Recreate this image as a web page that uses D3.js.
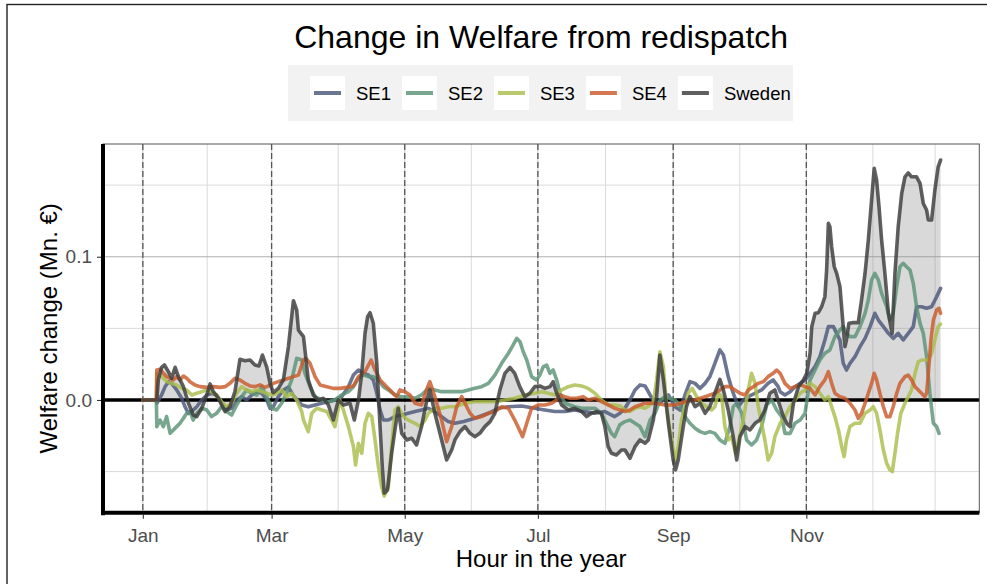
<!DOCTYPE html>
<html>
<head>
<meta charset="utf-8">
<script src="https://cdn.jsdelivr.net/npm/d3@7"></script>
<style>
  body { margin: 0; background: #fff; }
  svg { display: block; font-family: "Liberation Sans", Arial, sans-serif; }
</style>
</head>
<body>
<svg id="chart" width="987" height="584"></svg>
<script>
// Rolling welfare change per bidding zone, [day of year, Mn. €]
const se1 = [
  [0,0],[6.2,0],[6.4,-.0023],[8.6,.0035],[10.2,.0093],[11.7,.0128],[13.2,.0116],[15.5,.0070],[17.8,.0012],[19.3,-.0047],[20.9,-.0093],[22.4,-.0081],[24.7,-.0047],[27.0,0],[29.3,.0035],[31.5,.0047],[33.8,.0035],[36.1,-.0023],[38.4,-.0070],[40.7,-.0058],[43.0,0],[45.3,.0023],[47.6,0],[49.9,.0035],[52.2,.0058],[54.5,.0047],[56.8,0],[58.3,-.0058],[59.8,-.0047],[62.1,.0023],[64.4,.0070],[66.7,.0090],[69.0,.0030],[72.8,-.0035],[75.8,-.0047],[78.9,-.0035],[81.9,-.0023],[85.0,-.0012],[88.0,0],[91.1,.0023],[94.2,.0093],[96.5,.0174],[98.8,.0209],[101.1,.0186],[103.3,.0174],[105.6,.0140],[107.2,.0047],[108.7,-.0070],[110.2,-.0140],[112.5,-.0140],[115.5,-.0116],[118.6,-.0105],[121.6,-.0093],[124.7,-.0081],[127.7,-.0070],[130.8,-.0058],[133.8,-.0081],[136.9,-.0116],[139.9,-.0151],[143.0,-.0163],[147.0,-.0150],[152.1,-.0128],[158.3,-.0093],[162.9,-.0058],[167.5,-.0047],[173.5,-.0042],[179.6,-.0058],[184.2,-.0070],[188.8,-.0081],[193.4,-.0081],[197.9,-.0070],[202.5,-.0081],[207.1,-.0093],[211.7,-.0081],[216.2,-.0116],[218.6,-.0093],[220.9,-.0058],[223.2,0],[225.5,.0070],[227.8,.0105],[230.1,.0098],[232.4,.0035],[234.7,-.0023],[237.7,-.0012],[240.8,.0035],[243.8,-.0047],[246.1,-.0070],[248.4,.0035],[250.7,.0128],[253.0,.0116],[255.3,.0081],[257.6,.0116],[259.8,.0163],[262.1,.0256],[264.4,.0349],[266.0,.0314],[268.2,.0163],[270.5,.0047],[272.8,-.0047],[275.1,0],[277.4,.0023],[280.5,.0047],[283.5,.0070],[286.5,.0116],[288.8,.0140],[291.1,.0093],[292.0,.0058],[294.2,.0035],[296.6,.0058],[298.8,.0093],[301.2,.0116],[303.4,.0140],[305.7,.0186],[308.0,.0233],[310.2,.0302],[312.5,.0419],[314.1,.0512],[316.4,.0512],[317.9,.0465],[319.4,.0419],[320.9,.0256],[322.4,.0209],[324.0,.0256],[326.3,.0302],[328.6,.0372],[330.9,.0430],[333.2,.0512],[335.4,.0605],[337.0,.0558],[339.3,.0512],[341.6,.0465],[343.8,.0430],[346.1,.0465],[348.4,.0419],[350.7,.0465],[353.0,.0512],[354.5,.0651],[356.8,.0651],[359.1,.0640],[361.4,.0651],[363.7,.0721],[365.5,.0779]
];
const se2 = [
  [0,0],[6.2,0],[6.4,-.0186],[7.9,-.0140],[9.4,-.0186],[10.9,-.0116],[12.5,-.0233],[14.0,-.0209],[15.5,-.0186],[17.0,-.0163],[18.6,-.0128],[20.1,-.0093],[21.6,-.0081],[23.1,-.0140],[24.7,-.0093],[27.0,-.0058],[29.3,-.0070],[31.5,-.0116],[33.8,-.0093],[36.1,-.0047],[38.4,-.0081],[40.7,-.0105],[43.0,-.0035],[45.3,.0023],[47.6,.0070],[49.9,.0047],[52.2,.0035],[54.5,.0093],[56.8,.0023],[59.1,-.0058],[61.3,-.0070],[63.6,-.0023],[65.9,.0047],[68.2,.0140],[70.5,.0291],[72.8,.0279],[74.3,.0186],[76.6,.0093],[78.9,.0023],[81.9,0],[85.0,-.0012],[88.0,0],[91.1,.0035],[94.2,.0058],[96.5,.0093],[98.8,.0151],[101.1,.0174],[103.3,.0163],[105.6,.0163],[107.9,.0140],[110.2,.0093],[112.5,.0070],[115.5,.0035],[118.6,.0023],[121.6,.0023],[124.7,.0012],[127.7,.0035],[130.8,.0081],[133.8,.0070],[136.9,.0058],[139.9,.0058],[143.0,.0058],[146.1,.0058],[149.1,.0070],[152.1,.0081],[155.2,.0093],[158.3,.0116],[161.3,.0174],[164.4,.0256],[167.5,.0326],[169.7,.0384],[171.3,.0430],[172.8,.0407],[174.3,.0337],[175.9,.0279],[178.1,.0163],[180.4,.0140],[181.9,.0174],[183.5,.0233],[185.0,.0244],[186.5,.0186],[188.0,.0209],[189.6,.0140],[191.1,.0047],[193.4,-.0023],[195.7,-.0035],[197.9,-.0047],[201.0,-.0058],[204.0,-.0058],[207.1,-.0058],[210.1,-.0093],[212.4,-.0163],[214.7,-.0233],[216.2,-.0256],[218.5,-.0174],[220.9,-.0151],[223.2,-.0140],[225.5,-.0163],[227.8,-.0186],[230.1,-.0256],[232.4,-.0140],[234.7,-.0093],[237.0,0],[239.2,.0023],[241.5,.0012],[243.8,0],[246.1,-.0035],[248.4,-.0116],[250.7,-.0163],[253.0,-.0198],[255.3,-.0221],[257.6,-.0233],[259.8,-.0221],[262.1,-.0233],[264.4,-.0279],[266.7,-.0302],[269.0,-.0186],[270.5,-.0047],[272.1,-.0023],[274.4,-.0093],[276.6,-.0279],[278.9,-.0314],[281.2,-.0279],[283.5,-.0186],[285.8,-.0035],[288.1,0],[290.4,-.0070],[292.7,-.0116],[294.2,-.0233],[296.6,-.0233],[298.8,-.0163],[301.2,-.0140],[303.4,-.0093],[305.7,.0140],[308.0,.0209],[310.2,.0279],[312.5,.0326],[314.8,.0349],[317.1,.0442],[319.4,.0488],[320.9,.0512],[322.4,.0465],[324.0,.0442],[326.3,.0442],[328.6,.0512],[330.9,.0605],[332.4,.0698],[333.9,.0837],[335.4,.0884],[337.0,.0837],[338.5,.0744],[340.8,.0651],[342.3,.0558],[343.8,.0605],[345.4,.0791],[346.9,.0930],[348.4,.0954],[349.9,.0930],[351.5,.0907],[353.0,.0814],[354.5,.0651],[356.1,.0535],[357.6,.0465],[359.1,.0302],[360.6,.0047],[362.2,-.0163],[363.7,-.0186],[364.8,-.0233]
];
const se3 = [
  [0,0],[6.2,0],[6.4,.0186],[7.9,.0174],[9.4,.0151],[10.9,.0128],[13.2,.0116],[15.5,.0105],[17.8,.0081],[20.1,.0070],[22.4,.0035],[24.7,.0047],[27.0,.0058],[29.3,.0070],[31.5,.0058],[33.8,.0035],[36.1,-.0012],[38.4,-.0047],[40.7,-.0023],[43.0,.0047],[45.3,.0093],[47.6,.0070],[49.9,.0058],[52.2,.0070],[54.5,.0058],[56.8,.0047],[59.1,.0035],[61.3,.0047],[63.6,.0070],[65.9,.0023],[68.2,.0047],[70.5,0],[72.8,-.0081],[73.6,-.0140],[75.8,-.0221],[77.4,-.0093],[79.7,-.0058],[82.0,-.0070],[84.3,-.0081],[86.5,-.0140],[88.0,-.0186],[90.3,0],[91.9,-.0070],[94.2,-.0186],[96.5,-.0326],[97.5,-.0454],[98.8,-.0302],[100.3,-.0372],[101.8,-.0163],[103.3,-.0093],[104.9,-.0116],[106.4,-.0279],[107.9,-.0465],[109.4,-.0605],[110.6,-.0670],[112.5,-.0605],[114.0,-.0326],[115.5,-.0070],[117.0,-.0047],[119.4,-.0116],[121.6,-.0140],[124.7,-.0163],[127.0,-.0186],[129.3,-.0140],[130.8,-.0093],[133.8,-.0058],[136.9,-.0058],[139.9,-.0047],[143.0,-.0047],[147.6,-.0023],[152.1,-.0012],[161.3,-.0012],[165.9,0],[170.4,.0012],[175.0,.0035],[179.6,.0047],[182.7,.0058],[185.7,.0047],[188.8,.0035],[191.9,.0070],[194.9,.0093],[197.9,.0105],[201.0,.0098],[204.0,.0081],[207.1,.0047],[210.1,0],[213.2,-.0035],[216.2,-.0035],[218.6,-.0040],[220.9,-.0070],[223.2,-.0081],[225.5,-.0058],[227.8,-.0047],[230.1,-.0058],[232.4,-.0035],[233.9,-.0023],[235.4,.0140],[236.9,.0337],[238.5,.0233],[240.0,-.0047],[241.5,-.0209],[243.0,-.0349],[244.1,-.0419],[245.3,-.0326],[246.8,-.0140],[248.4,-.0047],[249.9,.0047],[251.7,.0081],[253.7,.0023],[256.0,-.0023],[258.3,-.0047],[260.6,-.0070],[262.1,-.0047],[263.6,.0047],[265.2,.0023],[266.7,-.0186],[268.2,-.0279],[269.7,-.0256],[271.6,-.0372],[273.1,-.0279],[275.1,-.0140],[277.1,.0047],[278.9,.0186],[280.5,.0116],[282.0,-.0047],[283.5,-.0163],[285.0,-.0279],[286.5,-.0419],[288.1,-.0372],[289.6,-.0256],[292.0,-.0163],[294.2,-.0116],[296.6,-.0047],[298.8,0],[301.2,.0047],[303.4,.0070],[305.7,.0116],[308.0,.0093],[310.2,.0047],[312.5,0],[314.1,.0023],[315.6,-.0047],[317.1,-.0116],[318.7,-.0209],[320.2,-.0326],[321.3,-.0395],[322.4,-.0279],[324.0,-.0186],[326.3,-.0163],[328.6,-.0163],[330.9,-.0093],[333.2,-.0070],[334.7,-.0047],[336.2,-.0093],[337.7,-.0209],[339.3,-.0349],[340.8,-.0442],[342.3,-.0488],[343.4,-.0500],[344.6,-.0372],[345.8,-.0233],[347.3,-.0093],[349.2,-.0023],[350.7,.0023],[352.2,.0070],[353.8,.0186],[355.3,.0267],[356.8,.0279],[359.9,.0279],[361.4,.0326],[362.9,.0419],[364.4,.0512],[365.5,.0530]
];
const se4 = [
  [0,0],[6.2,0],[6.4,.0209],[7.9,.0214],[9.4,.0186],[10.9,.0163],[12.5,.0151],[14.0,.0140],[15.5,.0163],[17.0,.0140],[18.6,.0167],[20.1,.0151],[21.6,.0128],[23.9,.0105],[26.2,.0093],[29.3,.0088],[32.3,.0093],[35.4,.0088],[37.7,.0093],[39.9,.0116],[42.2,.0151],[44.5,.0140],[46.8,.0116],[49.1,.0098],[51.4,.0093],[53.7,.0105],[56.0,.0088],[57.5,.0098],[59.8,.0116],[62.1,.0128],[64.4,.0140],[66.7,.0151],[69.0,.0163],[71.3,.0174],[73.6,.0279],[74.6,.0291],[76.6,.0256],[78.9,.0163],[81.2,.0105],[84.3,.0093],[87.3,.0081],[90.3,.0081],[93.4,.0088],[96.5,.0098],[98.8,.0163],[101.8,.0198],[104.6,.0279],[106.4,.0209],[108.7,.0140],[111.7,.0093],[114.0,.0058],[116.3,.0023],[117.8,.0070],[120.1,.0058],[122.4,.0035],[124.7,-.0023],[127.7,-.0035],[130.0,.0070],[131.5,.0128],[133.8,.0023],[136.9,-.0140],[139.2,-.0291],[141.5,-.0186],[143.8,-.0047],[146.1,.0023],[149.9,-.0093],[152.1,-.0128],[155.2,-.0116],[158.3,-.0093],[161.3,-.0081],[164.4,-.0047],[167.5,-.0058],[170.4,-.0140],[174.0,-.0256],[175.9,-.0163],[178.1,-.0058],[181.2,-.0035],[184.2,-.0035],[187.3,-.0023],[189.6,0],[191.1,.0035],[193.4,.0023],[195.7,.0012],[198.7,.0012],[201.8,.0023],[204.0,0],[207.1,.0012],[210.1,-.0012],[213.2,-.0035],[216.2,-.0058],[220.9,-.0081],[223.2,-.0070],[225.5,-.0047],[230.1,-.0023],[234.7,-.0023],[239.2,-.0035],[243.8,-.0035],[248.4,-.0012],[253.0,0],[257.6,.0023],[262.1,.0047],[264.4,.0070],[266.7,.0093],[269.0,.0093],[271.3,.0070],[273.6,.0047],[275.9,.0035],[277.4,.0070],[279.7,.0093],[282.0,.0116],[284.3,.0128],[286.5,.0163],[288.8,.0186],[290.4,.0209],[292.0,.0186],[294.2,.0116],[296.6,.0081],[298.8,.0093],[301.2,.0105],[303.4,.0093],[305.7,.0081],[308.0,.0035],[310.2,.0093],[312.5,.0140],[314.1,.0198],[315.6,.0116],[317.1,.0047],[319.4,.0023],[321.7,.0012],[324.0,-.0023],[326.3,-.0070],[327.8,-.0128],[329.3,-.0093],[330.9,-.0023],[332.4,.0047],[333.9,.0116],[335.1,.0186],[336.2,.0140],[337.7,.0047],[339.3,-.0047],[340.8,-.0116],[342.3,-.0116],[343.8,-.0047],[345.4,.0047],[346.9,.0116],[349.2,.0163],[350.7,.0174],[352.2,.0140],[353.8,.0093],[355.3,.0070],[356.8,.0047],[358.3,.0023],[359.1,.0047],[359.9,.0186],[361.1,.0419],[362.2,.0558],[363.7,.0628],[364.8,.0640],[365.5,.0605]
];
const sweden = [
  [0,0],[6.2,0],[6.4,0],[7.1,.0140],[8.6,.0228],[9.9,.0244],[11.7,.0198],[13.2,.0151],[14.8,.0228],[16.3,.0163],[18.6,.0093],[20.9,-.0023],[23.1,-.0105],[24.7,-.0116],[27.0,-.0058],[29.3,.0035],[30.8,.0112],[32.3,.0058],[34.6,.0012],[36.1,-.0035],[37.7,-.0081],[39.9,-.0047],[42.2,.0058],[44.5,.0284],[46.8,.0274],[49.1,.0279],[51.4,.0244],[53.2,.0237],[54.8,.0314],[56.8,.0228],[58.3,.0116],[59.8,.0051],[62.1,.0081],[64.4,.0140],[66.7,.0372],[69.0,.0693],[70.5,.0628],[71.3,.0488],[73.6,.0442],[75.8,.0140],[78.1,.0035],[80.4,0],[82.7,.0012],[85.0,-.0035],[87.3,-.0140],[89.6,0],[91.9,-.0035],[94.9,-.0023],[96.9,-.0140],[98.8,0],[100.3,.0186],[101.8,.0465],[103.0,.0582],[104.1,.0609],[105.6,.0535],[107.2,.0256],[108.7,-.0186],[109.7,-.0465],[110.6,-.0651],[112.1,-.0628],[114.0,-.0372],[115.5,-.0209],[117.0,-.0058],[118.6,-.0233],[120.9,-.0279],[123.2,-.0267],[125.4,-.0314],[127.7,-.0186],[130.0,-.0012],[131.5,.0070],[133.8,-.0093],[136.9,-.0279],[139.2,-.0419],[141.5,-.0349],[143.0,-.0279],[145.3,-.0221],[147.6,-.0186],[149.9,-.0233],[152.1,-.0256],[154.4,-.0233],[156.7,-.0186],[159.1,-.0151],[161.3,-.0093],[163.6,.0070],[165.9,.0186],[168.2,.0228],[170.4,.0186],[172.7,.0093],[175.0,.0023],[177.3,.0047],[179.6,.0093],[181.9,.0098],[184.2,.0081],[186.5,.0093],[188.0,.0128],[189.6,.0047],[191.9,-.0035],[194.9,-.0070],[197.9,-.0058],[201.0,-.0081],[203.3,-.0116],[205.6,-.0093],[207.8,-.0081],[210.1,-.0093],[211.7,-.0186],[213.2,-.0326],[214.7,-.0372],[217.0,-.0384],[219.3,-.0349],[220.9,-.0349],[223.2,-.0407],[225.5,-.0326],[227.8,-.0279],[230.1,-.0302],[231.6,-.0279],[233.9,-.0140],[235.4,.0023],[236.9,.0314],[238.5,.0140],[240.8,-.0163],[243.0,-.0419],[244.1,-.0488],[245.3,-.0419],[247.6,-.0186],[249.1,-.0047],[250.7,.0023],[253.0,-.0047],[255.3,-.0023],[257.6,-.0093],[259.8,-.0047],[262.1,.0047],[264.4,.0144],[266.0,.0070],[268.2,-.0070],[270.5,-.0256],[272.1,-.0419],[273.6,-.0256],[275.9,-.0186],[278.2,-.0209],[280.5,-.0163],[282.7,-.0140],[285.0,-.0070],[287.3,.0047],[289.6,.0070],[292.0,-.0047],[293.5,-.0116],[295.0,-.0163],[296.6,-.0186],[298.1,-.0023],[300.4,.0093],[302.7,.0140],[304.2,.0186],[305.7,.0326],[306.5,.0512],[308.0,.0605],[309.5,.0609],[311.0,.0651],[312.5,.0721],[313.3,.0907],[314.1,.1233],[314.8,.1210],[315.6,.1070],[316.8,.0930],[317.9,.0884],[319.4,.0791],[320.9,.0512],[321.7,.0372],[322.4,.0419],[323.5,.0535],[325.5,.0540],[327.8,.0540],[329.3,.0698],[330.9,.0884],[332.4,.1116],[333.9,.1396],[335.1,.1617],[336.2,.1535],[337.3,.1349],[338.5,.1116],[340.0,.0884],[341.6,.0605],[343.3,.0465],[344.6,.0884],[346.1,.1210],[347.7,.1442],[349.2,.1558],[350.7,.1586],[352.2,.1558],[354.5,.1558],[356.1,.1512],[357.6,.1372],[359.1,.1326],[359.9,.1256],[361.4,.1256],[362.9,.1465],[364.4,.1628],[365.5,.1675]
];

const seriesNames = ["SE1", "SE2", "SE3", "SE4", "Sweden"];
const seriesData = [se1, se2, se3, se4, sweden];
const seriesColors = ["#4c5779", "#5c9276", "#aabd4a", "#c95a2a", "#3c3c3c"];

// Axis breaks (hours in the year)
const monthLabels = ["Jan", "Mar", "May", "Jul", "Sep", "Nov"];
const monthHours = [0, 1416, 2880, 4344, 5832, 7296];
const minorHours = [708, 2148, 3612, 5088, 6564, 8028, 8712];
const yMajor = [0, 0.1];
const yMinor = [-0.05, 0.05, 0.15];
const yLabels = ["0.0", "0.1"];

const svg = d3.select("#chart");
const P = { left: 103, right: 979.3, top: 144, bottom: 512.7 };

const x = d3.scaleLinear().domain([-438, 9198]).range([P.left, P.right]);
const y = d3.scaleLinear().domain([-0.0787, 0.1787]).range([P.bottom, P.top]);
const hour = d => d[0] * 24;

// outer frame
svg.append("rect").attr("x", 7).attr("y", 4.5).attr("width", 1000).attr("height", 600)
  .attr("fill", "none").attr("stroke", "#222").attr("stroke-width", 1.4);

// panel
const g = svg.append("g");
g.append("rect").attr("x", P.left).attr("y", P.top)
  .attr("width", P.right - P.left).attr("height", P.bottom - P.top).attr("fill", "#fff");

// grid
g.selectAll(".gy-minor").data(yMinor).join("line")
  .attr("x1", P.left).attr("x2", P.right).attr("y1", d => y(d)).attr("y2", d => y(d))
  .attr("stroke", "#dadada").attr("stroke-width", 1);
g.selectAll(".gx-minor").data(minorHours).join("line")
  .attr("y1", P.top).attr("y2", P.bottom).attr("x1", d => x(d)).attr("x2", d => x(d))
  .attr("stroke", "#dadada").attr("stroke-width", 1);
g.selectAll(".gy-major").data(yMajor).join("line")
  .attr("x1", P.left).attr("x2", P.right).attr("y1", d => y(d)).attr("y2", d => y(d))
  .attr("stroke", "#b0b0b0").attr("stroke-width", 1.2);
g.selectAll(".gx-major").data(monthHours).join("line")
  .attr("y1", P.top).attr("y2", P.bottom).attr("x1", d => x(d)).attr("x2", d => x(d))
  .attr("stroke", "#cfcfcf").attr("stroke-width", 1.2);

// shaded area between the national total and zero
const area = d3.area().x(d => x(hour(d))).y0(y(0)).y1(d => y(d[1]));
g.append("path").datum(sweden).attr("d", area)
  .attr("fill", "#808080").attr("fill-opacity", 0.3);

// month markers
g.selectAll(".vline").data(monthHours).join("line")
  .attr("y1", P.top).attr("y2", P.bottom).attr("x1", d => x(d)).attr("x2", d => x(d))
  .attr("stroke", "#555").attr("stroke-width", 1.3).attr("stroke-dasharray", "6,3");

// zero reference
g.append("line").attr("x1", P.left).attr("x2", P.right).attr("y1", y(0)).attr("y2", y(0))
  .attr("stroke", "#000").attr("stroke-width", 3.6);

// series lines
const line = d3.line().x(d => x(hour(d))).y(d => y(d[1]));
seriesData.forEach((s, i) => {
  g.append("path").datum(s).attr("d", line)
    .attr("fill", "none").attr("stroke", seriesColors[i]).attr("stroke-opacity", 0.82)
    .attr("stroke-width", 3.6).attr("stroke-linejoin", "round").attr("stroke-linecap", "round");
});

// panel border
g.append("rect").attr("x", P.left).attr("y", P.top)
  .attr("width", P.right - P.left).attr("height", P.bottom - P.top)
  .attr("fill", "none").attr("stroke", "#555").attr("stroke-width", 1);

// axes
const yAxis = d3.axisLeft(y).tickValues(yMajor).tickFormat((d, i) => yLabels[i]).tickSize(4).tickPadding(5);
const xAxis = d3.axisBottom(x).tickValues(monthHours).tickFormat((d, i) => monthLabels[i]).tickSize(4).tickPadding(5);

const ya = svg.append("g").attr("transform", `translate(${P.left - 2},0)`).call(yAxis);
const xa = svg.append("g").attr("transform", `translate(0,${P.bottom + 2})`).call(xAxis);
[ya, xa].forEach(a => {
  a.select(".domain").remove();
  a.selectAll(".tick line").attr("stroke", "#333").attr("stroke-width", 1.1);
  a.selectAll(".tick text").attr("fill", "#4d4d4d").attr("font-size", 19)
    .attr("font-family", "'Liberation Sans', Arial, sans-serif");
});
xa.selectAll(".tick text").attr("dy", "0.95em");

// thick axis lines
svg.append("line").attr("x1", P.left).attr("x2", P.left).attr("y1", P.top).attr("y2", P.bottom + 2.5)
  .attr("stroke", "#000").attr("stroke-width", 4);
svg.append("line").attr("x1", P.left - 2).attr("x2", P.right).attr("y1", P.bottom).attr("y2", P.bottom)
  .attr("stroke", "#000").attr("stroke-width", 4);

// titles
const midX = (P.left + P.right) / 2;
svg.append("text").attr("x", midX).attr("y", 48).attr("text-anchor", "middle")
  .attr("font-size", 32).attr("fill", "#000").text("Change in Welfare from redispatch");
svg.append("text").attr("x", midX).attr("y", 566.5).attr("text-anchor", "middle")
  .attr("font-size", 24).attr("fill", "#000").text("Hour in the year");
svg.append("text").attr("transform", `translate(57,${(P.top + P.bottom) / 2}) rotate(-90)`)
  .attr("text-anchor", "middle").attr("font-size", 24).attr("fill", "#000")
  .text("Welfare change (Mn. €)");

// legend
const lg = svg.append("g");
lg.append("rect").attr("x", 288).attr("y", 65).attr("width", 505).attr("height", 56).attr("fill", "#f2f2f2");
let lx = 310;
seriesNames.forEach((name, i) => {
  lg.append("rect").attr("x", lx).attr("y", 76).attr("width", 35).attr("height", 34).attr("fill", "#fff");
  lg.append("line").attr("x1", lx + 4).attr("x2", lx + 31).attr("y1", 93).attr("y2", 93)
    .attr("stroke", seriesColors[i]).attr("stroke-opacity", 0.82).attr("stroke-width", 4);
  const t = lg.append("text").attr("x", lx + 46).attr("y", 100).attr("font-size", 18.5)
    .attr("fill", "#000").text(name);
  lx += 46 + t.node().getComputedTextLength() + 11;
});
</script>
</body>
</html>
